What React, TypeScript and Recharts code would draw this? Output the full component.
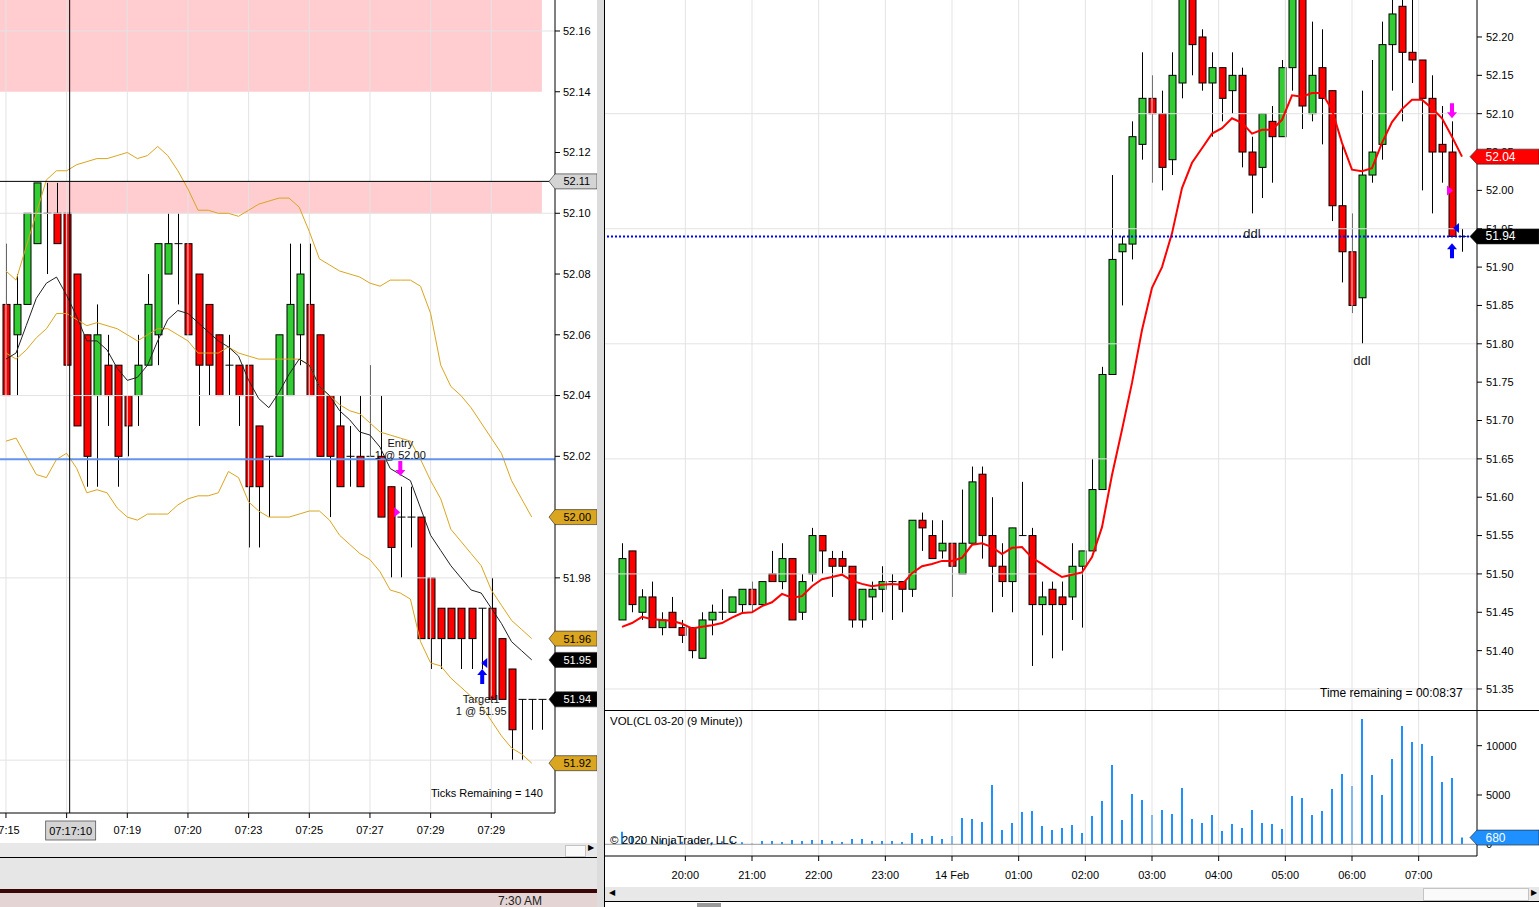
import React from 'react';
import {
  ComposedChart,
  Bar,
  Line,
  XAxis,
  YAxis,
  ReferenceLine,
  ReferenceArea,
  ReferenceDot,
} from 'recharts';

const FONT = '"Liberation Sans", Arial, sans-serif';
const GREEN = '#32CD32';
const RED = '#FF0000';
const GOLD = '#DAA520';
const GRID = '#e3e3e3';
const VOL_BLUE = '#1E90FF';

// ---- left panel: tick chart (one bar per n ticks) ----
const leftOpen = [52.07, 52.06, 52.07, 52.09, 52.10, 52.10, 52.10, 52.08, 52.06, 52.04, 52.05, 52.05, 52.04, 52.04, 52.05, 52.06, 52.08, 52.09, 52.09, 52.08, 52.07, 52.06, 52.05, 52.05, 52.05, 52.03, 52.02, 52.02, 52.04, 52.06, 52.07, 52.06, 52.04, 52.03, 52.02, 52.02, 52.02, 52.02, 52.01, 52.00, 52.00, 52.00, 51.98, 51.97, 51.97, 51.97, 51.97, 51.97, 51.97, 51.96, 51.95, 51.94, 51.94, 51.94];
const leftHigh = [52.09, 52.08, 52.10, 52.11, 52.11, 52.11, 52.10, 52.08, 52.06, 52.07, 52.06, 52.05, 52.04, 52.06, 52.08, 52.09, 52.10, 52.10, 52.09, 52.08, 52.07, 52.06, 52.06, 52.05, 52.05, 52.03, 52.02, 52.06, 52.09, 52.09, 52.09, 52.06, 52.04, 52.04, 52.03, 52.04, 52.05, 52.04, 52.01, 52.01, 52.01, 52.00, 51.98, 51.97, 51.97, 51.97, 51.97, 51.97, 51.98, 51.96, 51.95, 51.94, 51.94, 51.94];
const leftLow = [52.04, 52.04, 52.07, 52.09, 52.08, 52.09, 52.05, 52.03, 52.01, 52.01, 52.03, 52.01, 52.02, 52.03, 52.05, 52.05, 52.08, 52.07, 52.06, 52.03, 52.04, 52.04, 52.04, 52.03, 51.99, 51.99, 52.00, 52.02, 52.04, 52.05, 52.04, 52.02, 52.00, 52.01, 52.01, 52.01, 52.02, 52.00, 51.98, 51.98, 51.99, 51.96, 51.95, 51.95, 51.96, 51.95, 51.95, 51.95, 51.94, 51.94, 51.92, 51.92, 51.93, 51.93];
const leftClose = [52.04, 52.07, 52.10, 52.11, 52.10, 52.09, 52.05, 52.03, 52.02, 52.06, 52.04, 52.02, 52.03, 52.05, 52.07, 52.09, 52.09, 52.09, 52.06, 52.05, 52.05, 52.04, 52.05, 52.04, 52.01, 52.01, 52.02, 52.06, 52.07, 52.08, 52.04, 52.02, 52.02, 52.01, 52.02, 52.01, 52.02, 52.00, 51.99, 52.00, 52.00, 51.96, 51.96, 51.96, 51.96, 51.96, 51.96, 51.97, 51.94, 51.94, 51.93, 51.94, 51.94, 51.94];

// envelope bands + short average (last bar still forming, no value)
const leftUpper = [52.081, 52.078, 52.089, 52.100, 52.111, 52.114, 52.114, 52.116, 52.117, 52.118, 52.118, 52.119, 52.120, 52.118, 52.119, 52.122, 52.119, 52.114, 52.108, 52.101, 52.101, 52.100, 52.100, 52.099, 52.101, 52.103, 52.104, 52.105, 52.105, 52.102, 52.094, 52.085, 52.083, 52.081, 52.080, 52.079, 52.077, 52.076, 52.078, 52.078, 52.078, 52.076, 52.067, 52.050, 52.043, 52.040, 52.036, 52.031, 52.026, 52.021, 52.012, 52.006, 52.000];
const leftMiddle = [52.054, 52.052, 52.055, 52.059, 52.062, 52.067, 52.067, 52.065, 52.063, 52.064, 52.063, 52.062, 52.060, 52.058, 52.060, 52.062, 52.062, 52.060, 52.058, 52.054, 52.054, 52.054, 52.056, 52.054, 52.053, 52.052, 52.052, 52.052, 52.052, 52.052, 52.050, 52.043, 52.040, 52.037, 52.035, 52.034, 52.031, 52.028, 52.027, 52.026, 52.025, 52.019, 52.012, 52.006, 51.996, 51.992, 51.988, 51.984, 51.976, 51.971, 51.966, 51.963, 51.960];
const leftLower = [52.025, 52.026, 52.020, 52.014, 52.013, 52.019, 52.021, 52.016, 52.008, 52.009, 52.008, 52.003, 52.000, 51.999, 52.001, 52.001, 52.001, 52.004, 52.006, 52.007, 52.007, 52.008, 52.015, 52.013, 52.005, 52.002, 52.000, 52.000, 52.000, 52.001, 52.002, 52.002, 51.999, 51.994, 51.991, 51.988, 51.986, 51.982, 51.976, 51.975, 51.973, 51.959, 51.952, 51.951, 51.947, 51.944, 51.941, 51.938, 51.933, 51.928, 51.924, 51.922, 51.919];
const leftAvg = [52.052, 52.054, 52.063, 52.072, 52.077, 52.079, 52.073, 52.066, 52.058, 52.058, 52.055, 52.049, 52.045, 52.046, 52.050, 52.058, 52.065, 52.068, 52.067, 52.064, 52.061, 52.058, 52.056, 52.053, 52.045, 52.039, 52.036, 52.041, 52.047, 52.052, 52.050, 52.043, 52.040, 52.035, 52.032, 52.028, 52.027, 52.023, 52.016, 52.014, 52.012, 52.003, 51.994, 51.989, 51.984, 51.980, 51.976, 51.975, 51.970, 51.965, 51.959, 51.956, 51.953];

const leftTickIdx = [0, 6, 12, 18, 24, 30, 36, 42, 48];
const leftTickText = ['07:15', '07:17', '07:19', '07:20', '07:23', '07:25', '07:27', '07:29', '07:29'];
const leftPriceTicks = [51.92, 51.94, 51.96, 51.98, 52.0, 52.02, 52.04, 52.06, 52.08, 52.1, 52.12, 52.14, 52.16];
const leftGridPrices = [51.92, 51.98, 52.04, 52.1, 52.16];

const leftEntry = 52.019;
const leftCrossPrice = 52.1105;
const leftCrossIdx = 6.3;

// ---- right panel: CL 03-20, 9 minute bars ----
const BAR0 = 19 * 60 + 3; // first bar, minutes from 13 Feb 00:00
const BAR_MIN = 9;

const rightOpen = [51.44, 51.53, 51.45, 51.47, 51.43, 51.45, 51.43, 51.43, 51.39, 51.44, 51.45, 51.45, 51.46, 51.48, 51.46, 51.50, 51.49, 51.52, 51.45, 51.50, 51.55, 51.52, 51.52, 51.51, 51.44, 51.47, 51.48, 51.49, 51.49, 51.48, 51.57, 51.55, 51.53, 51.54, 51.50, 51.54, 51.63, 51.55, 51.51, 51.49, 51.55, 51.55, 51.46, 51.48, 51.47, 51.47, 51.51, 51.53, 51.61, 51.76, 51.92, 51.93, 52.06, 52.12, 52.10, 52.04, 52.14, 52.27, 52.20, 52.14, 52.16, 52.13, 52.15, 52.05, 52.03, 52.09, 52.07, 52.16, 52.27, 52.10, 52.16, 52.13, 51.98, 51.92, 51.86, 52.02, 52.06, 52.19, 52.24, 52.18, 52.17, 52.12, 52.06, 52.05, 51.94];
const rightHigh = [51.54, 51.53, 51.48, 51.49, 51.45, 51.47, 51.44, 51.43, 51.45, 51.46, 51.48, 51.47, 51.48, 51.49, 51.49, 51.53, 51.54, 51.52, 51.50, 51.56, 51.55, 51.53, 51.53, 51.51, 51.48, 51.49, 51.51, 51.50, 51.49, 51.57, 51.58, 51.57, 51.57, 51.54, 51.61, 51.64, 51.64, 51.60, 51.54, 51.56, 51.62, 51.56, 51.49, 51.49, 51.49, 51.54, 51.53, 51.65, 51.77, 52.02, 51.94, 52.09, 52.18, 52.15, 52.13, 52.18, 52.29, 52.29, 52.21, 52.18, 52.16, 52.18, 52.16, 52.07, 52.10, 52.11, 52.17, 52.29, 52.29, 52.22, 52.21, 52.13, 52.06, 51.97, 52.13, 52.17, 52.22, 52.27, 52.27, 52.27, 52.17, 52.15, 52.11, 52.09, 51.95];
const rightLow = [51.44, 51.45, 51.44, 51.43, 51.42, 51.43, 51.41, 51.39, 51.39, 51.42, 51.44, 51.45, 51.45, 51.45, 51.46, 51.49, 51.48, 51.44, 51.44, 51.49, 51.50, 51.47, 51.50, 51.43, 51.43, 51.44, 51.45, 51.44, 51.45, 51.47, 51.53, 51.52, 51.52, 51.47, 51.50, 51.54, 51.52, 51.45, 51.47, 51.45, 51.55, 51.38, 51.42, 51.39, 51.40, 51.44, 51.43, 51.53, 51.61, 51.76, 51.85, 51.91, 52.04, 52.01, 52.00, 52.02, 52.12, 52.15, 52.13, 52.07, 52.09, 52.10, 52.03, 51.97, 51.99, 52.01, 52.07, 52.13, 52.08, 52.09, 52.06, 51.96, 51.88, 51.84, 51.80, 52.01, 52.04, 52.13, 52.09, 52.14, 52.00, 51.97, 52.01, 51.94, 51.92];
const rightClose = [51.52, 51.46, 51.47, 51.43, 51.44, 51.43, 51.42, 51.40, 51.44, 51.45, 51.45, 51.47, 51.48, 51.46, 51.49, 51.49, 51.52, 51.44, 51.49, 51.55, 51.53, 51.51, 51.51, 51.44, 51.48, 51.48, 51.49, 51.49, 51.48, 51.57, 51.56, 51.52, 51.54, 51.51, 51.54, 51.62, 51.55, 51.51, 51.49, 51.56, 51.55, 51.46, 51.47, 51.46, 51.46, 51.51, 51.53, 51.61, 51.76, 51.91, 51.93, 52.07, 52.12, 52.10, 52.03, 52.15, 52.27, 52.19, 52.14, 52.16, 52.12, 52.15, 52.05, 52.02, 52.10, 52.07, 52.16, 52.27, 52.11, 52.15, 52.12, 51.98, 51.92, 51.85, 52.02, 52.05, 52.19, 52.23, 52.18, 52.17, 52.12, 52.05, 52.05, 51.94, 51.94];
const rightEma = [51.431, 51.436, 51.444, 51.441, 51.440, 51.439, 51.435, 51.429, 51.431, 51.433, 51.436, 51.443, 51.449, 51.450, 51.458, 51.463, 51.474, 51.469, 51.471, 51.484, 51.493, 51.496, 51.499, 51.491, 51.487, 51.484, 51.486, 51.487, 51.486, 51.501, 51.510, 51.513, 51.517, 51.517, 51.521, 51.538, 51.540, 51.535, 51.526, 51.534, 51.535, 51.521, 51.513, 51.504, 51.496, 51.499, 51.502, 51.522, 51.561, 51.629, 51.688, 51.749, 51.818, 51.873, 51.900, 51.944, 52.003, 52.036, 52.055, 52.074, 52.081, 52.094, 52.088, 52.074, 52.079, 52.079, 52.092, 52.124, 52.122, 52.127, 52.127, 52.105, 52.062, 52.027, 52.025, 52.029, 52.062, 52.089, 52.106, 52.118, 52.118, 52.107, 52.094, 52.070, 52.044];
const rightVolume = [1280, 770, 400, 400, 400, 400, 270, 350, 300, 200, 300, 300, 200, 70, 340, 340, 240, 440, 340, 440, 440, 340, 240, 540, 540, 340, 340, 340, 240, 1150, 540, 845, 540, 845, 2670, 2570, 2260, 6010, 1450, 2160, 3280, 3380, 1860, 1450, 1660, 1960, 1150, 2870, 4390, 8040, 2470, 5100, 4490, 2970, 3480, 3070, 5710, 2570, 2160, 2970, 1350, 2060, 1660, 3480, 2160, 2060, 1550, 4900, 4700, 2970, 3380, 5610, 7130, 5910, 12700, 7030, 5000, 8650, 11990, 10370, 10170, 8950, 6320, 6720, 680];

const hourTicks = [1200, 1260, 1320, 1380, 1440, 1500, 1560, 1620, 1680, 1740, 1800, 1860];
const hourText = ['20:00', '21:00', '22:00', '23:00', '14 Feb', '01:00', '02:00', '03:00', '04:00', '05:00', '06:00', '07:00'];
const rightPriceTicks = [51.35, 51.4, 51.45, 51.5, 51.55, 51.6, 51.65, 51.7, 51.75, 51.8, 51.85, 51.9, 51.95, 52.0, 52.05, 52.1, 52.15, 52.2];
const rightGridPrices = [51.35, 51.5, 51.65, 51.8, 51.95, 52.1];
const volumeTicks = [0, 5000, 10000];
const rightLast = 51.94;

const leftRows = leftOpen.map((o, i) => ({
  i,
  o,
  h: leftHigh[i],
  l: leftLow[i],
  c: leftClose[i],
  up: leftUpper[i] ?? null,
  mid: leftMiddle[i] ?? null,
  lo: leftLower[i] ?? null,
  avg: leftAvg[i] ?? null,
}));

const rightRows = rightOpen.map((o, i) => ({
  t: BAR0 + i * BAR_MIN,
  o,
  h: rightHigh[i],
  l: rightLow[i],
  c: rightClose[i],
  ema: rightEma[i],
  v: rightVolume[i],
}));
const barTime = (i: number) => BAR0 + i * BAR_MIN;

/* candle drawn inside the [low, high] range bar that recharts lays out */
const Candle = (props: any) => {
  const { x, y, width, height, payload } = props;
  if (payload == null || x == null || y == null) return null;
  const { o, h, l, c } = payload;
  const cx = Math.round(x + width / 2) + 0.5;
  const k = h - l > 0 ? height / (h - l) : 0;
  const py = (v: number) => y + (h - v) * k;
  const top = py(Math.max(o, c));
  const bot = py(Math.min(o, c));
  return (
    <g>
      <line x1={cx} x2={cx} y1={y} y2={y + height} stroke="#000" strokeWidth={1} />
      {o === c ? (
        <line x1={cx - 4} x2={cx + 4} y1={top} y2={top} stroke="#000" strokeWidth={1} />
      ) : (
        <rect
          x={cx - 3.5}
          y={top}
          width={7}
          height={bot - top}
          fill={c > o ? GREEN : RED}
          stroke="#000"
          strokeWidth={1}
        />
      )}
    </g>
  );
};

/* NinjaTrader style price marker sitting on the price axis */
const Tag = (props: any) => {
  const { viewBox, text, bg, fg, tip = 6, w = 42, size = 11 } = props;
  if (!viewBox) return null;
  const ax = viewBox.x + viewBox.width;
  const cy = viewBox.y;
  const hh = 7.5;
  const pts = `${ax - tip},${cy} ${ax},${cy - hh} ${ax + w},${cy - hh} ${ax + w},${cy + hh} ${ax},${cy + hh}`;
  return (
    <g>
      <polygon points={pts} fill={bg} stroke="#222" strokeWidth={0.6} />
      <text x={ax + 8.5} y={cy + 4} fontSize={size} fontFamily={FONT} fill={fg}>
        {text}
      </text>
    </g>
  );
};

const TimeTag = (props: any) => {
  const { viewBox, text } = props;
  if (!viewBox) return null;
  const x = viewBox.x;
  const y = viewBox.y + viewBox.height;
  return (
    <g>
      <rect x={x - 24} y={y + 8} width={50} height={19} fill="#d4d4d4" stroke="#555" strokeWidth={0.8} />
      <text x={x + 1} y={y + 21.5} fontSize={11} textAnchor="middle" fontFamily={FONT} fill="#000">
        {text}
      </text>
    </g>
  );
};

const arrowDown = (color: string) => (p: any) => (
  <path
    d={`M${p.cx - 2},${p.cy - 15} L${p.cx + 2},${p.cy - 15} L${p.cx + 2},${p.cy - 6} L${p.cx + 5},${p.cy - 6} L${p.cx},${p.cy} L${p.cx - 5},${p.cy - 6} L${p.cx - 2},${p.cy - 6} Z`}
    fill={color}
  />
);
const arrowUp = (color: string) => (p: any) => (
  <path
    d={`M${p.cx - 2},${p.cy + 15} L${p.cx + 2},${p.cy + 15} L${p.cx + 2},${p.cy + 6} L${p.cx + 5},${p.cy + 6} L${p.cx},${p.cy} L${p.cx - 5},${p.cy + 6} L${p.cx - 2},${p.cy + 6} Z`}
    fill={color}
  />
);
const triRight = (color: string) => (p: any) => (
  <path d={`M${p.cx - 3},${p.cy - 5} L${p.cx + 3},${p.cy} L${p.cx - 3},${p.cy + 5} Z`} fill={color} />
);
const triLeft = (color: string) => (p: any) => (
  <path d={`M${p.cx + 3},${p.cy - 5} L${p.cx - 3},${p.cy} L${p.cx + 3},${p.cy + 5} Z`} fill={color} />
);
const twoLines = (a: string, b: string, d1: number, d2: number) => (p: any) => (
  <g fontSize={11} fontFamily={FONT} fill="#111" textAnchor="middle">
    <text x={p.cx} y={p.cy + d1}>{a}</text>
    <text x={p.cx} y={p.cy + d2}>{b}</text>
  </g>
);
const oneLine = (a: string) => (p: any) => (
  <text x={p.cx} y={p.cy + 4} fontSize={13} fontFamily={FONT} fill="#222" textAnchor="middle">
    {a}
  </text>
);

const axisTick = { fontSize: 11, fill: '#000', fontFamily: FONT };
const last = (arr: number[]) => arr[arr.length - 1];

const LEFT_X: [number, number] = [-0.59, 54.3];
const LEFT_Y: [number, number] = [51.9026, 52.1702];
const RIGHT_X: [number, number] = [1127.7, 1912.5];
const PRICE_Y: [number, number] = [51.3226, 52.2482];
const VOL_Y: [number, number] = [-1187, 13519];

/* invisible axes with the same geometry, so the axis markers land on top of the tick labels */
const ghostAxes = (xDomain: [number, number], yDomain: [number, number], xh: number, yw: number, xKey: string) => [
  <XAxis key="gx" dataKey={xKey} type="number" domain={xDomain} allowDataOverflow height={xh} tick={false} tickLine={false} axisLine={false} />,
  <YAxis key="gy" orientation="right" type="number" domain={yDomain} allowDataOverflow width={yw} tick={false} tickLine={false} axisLine={false} />,
];

function LeftChart() {
  return (
    <ComposedChart width={597} height={843} data={leftRows} margin={{ top: 0, right: 0, bottom: 0, left: 0 }}>
      <XAxis
        dataKey="i"
        type="number"
        domain={LEFT_X}
        allowDataOverflow
        ticks={leftTickIdx}
        interval={0}
        tickFormatter={(v: number) => (v === 6 ? '' : leftTickText[leftTickIdx.indexOf(v)] ?? '')}
        tick={axisTick}
        tickLine={{ stroke: '#000' }}
        axisLine={{ stroke: '#000' }}
        tickSize={5}
        tickMargin={8}
        height={30}
      />
      <YAxis
        orientation="right"
        type="number"
        domain={LEFT_Y}
        allowDataOverflow
        ticks={leftPriceTicks}
        interval={0}
        tickFormatter={(v: number) => v.toFixed(2)}
        tick={axisTick}
        tickLine={{ stroke: '#000' }}
        axisLine={{ stroke: '#000' }}
        tickSize={5}
        tickMargin={3}
        width={42}
      />
      <ReferenceArea x1={LEFT_X[0]} x2={53} y1={52.14} y2={LEFT_Y[1]} fill="#ffccd0" fillOpacity={1} stroke="none" ifOverflow="hidden" />
      <ReferenceArea x1={4} x2={53} y1={52.1} y2={52.1105} fill="#ffccd0" fillOpacity={1} stroke="none" />
      {leftGridPrices.map((p) => (
        <ReferenceLine key={'lg' + p} y={p} stroke={GRID} />
      ))}
      {leftTickIdx.map((t) => (
        <ReferenceLine key={'lv' + t} x={t} stroke={GRID} />
      ))}
      <Bar dataKey={(d: any) => [d.l, d.h]} barSize={7} shape={(p: any) => <Candle {...p} />} isAnimationActive={false} />
      <Line dataKey="up" type="linear" stroke={GOLD} strokeWidth={1} dot={false} activeDot={false} isAnimationActive={false} />
      <Line dataKey="mid" type="linear" stroke={GOLD} strokeWidth={1} dot={false} activeDot={false} isAnimationActive={false} />
      <Line dataKey="lo" type="linear" stroke={GOLD} strokeWidth={1} dot={false} activeDot={false} isAnimationActive={false} />
      <Line dataKey="avg" type="linear" stroke="#222" strokeWidth={1} dot={false} activeDot={false} isAnimationActive={false} />
      <ReferenceLine y={leftEntry} stroke="#6495ED" strokeWidth={2} />
      <ReferenceLine y={leftCrossPrice} stroke="#000" strokeWidth={1} />
      <ReferenceLine x={leftCrossIdx} stroke="#000" strokeWidth={1} />
      <ReferenceDot x={39} y={leftEntry} r={0} shape={twoLines('Entry', '1 @ 52.00', -12, 0)} />
      <ReferenceDot x={39} y={52.0135} r={0} shape={arrowDown('#FF00FF')} />
      <ReferenceDot x={38.7} y={52.0016} r={0} shape={triRight('#FF00FF')} />
      <ReferenceDot x={47.1} y={51.95} r={0} shape={arrowUp('#0000FF')} />
      <ReferenceDot x={47.3} y={51.952} r={0} shape={triLeft('#0000FF')} />
      <ReferenceDot x={47} y={51.94} r={0} shape={twoLines('Target1', '1 @ 51.95', 4, 16)} />
    </ComposedChart>
  );
}

function LeftTags() {
  return (
    <ComposedChart width={597} height={843} data={leftRows} margin={{ top: 0, right: 0, bottom: 0, left: 0 }}>
      {ghostAxes(LEFT_X, LEFT_Y, 30, 42, 'i')}
      <ReferenceLine y={leftCrossPrice} stroke="none" label={<Tag text={leftCrossPrice.toFixed(2)} bg="#d4d4d4" fg="#000" />} />
      <ReferenceLine x={leftCrossIdx} stroke="none" label={<TimeTag text="07:17:10" />} />
      <ReferenceLine y={last(leftUpper)} stroke="none" label={<Tag text={last(leftUpper).toFixed(2)} bg={GOLD} fg="#000" />} />
      <ReferenceLine y={last(leftMiddle)} stroke="none" label={<Tag text={last(leftMiddle).toFixed(2)} bg={GOLD} fg="#000" />} />
      <ReferenceLine y={last(leftLower)} stroke="none" label={<Tag text={last(leftLower).toFixed(2)} bg={GOLD} fg="#000" />} />
      <ReferenceLine y={last(leftAvg)} stroke="none" label={<Tag text={last(leftAvg).toFixed(2)} bg="#000" fg="#fff" />} />
      <ReferenceLine y={last(leftClose)} stroke="none" label={<Tag text={last(leftClose).toFixed(2)} bg="#000" fg="#fff" />} />
    </ComposedChart>
  );
}

function PriceChart() {
  return (
    <ComposedChart width={934} height={710} data={rightRows} margin={{ top: 0, right: 0, bottom: 0, left: 0 }}>
      <XAxis dataKey="t" type="number" domain={RIGHT_X} allowDataOverflow hide />
      <YAxis
        orientation="right"
        type="number"
        domain={PRICE_Y}
        allowDataOverflow
        ticks={rightPriceTicks}
        interval={0}
        tickFormatter={(v: number) => v.toFixed(2)}
        tick={axisTick}
        tickLine={{ stroke: '#000' }}
        axisLine={{ stroke: '#000' }}
        tickSize={5}
        tickMargin={4}
        width={62}
      />
      {rightGridPrices.map((p) => (
        <ReferenceLine key={'rg' + p} y={p} stroke={GRID} />
      ))}
      {hourTicks.map((t) => (
        <ReferenceLine key={'rv' + t} x={t} stroke={GRID} />
      ))}
      <Bar dataKey={(d: any) => [d.l, d.h]} barSize={7} shape={(p: any) => <Candle {...p} />} isAnimationActive={false} />
      <Line dataKey="ema" type="linear" stroke={RED} strokeWidth={2} dot={false} activeDot={false} isAnimationActive={false} />
      <ReferenceLine y={rightLast} stroke="#0000FF" strokeWidth={2} strokeDasharray="2 2" />
      <ReferenceDot x={barTime(63)} y={51.943} r={0} shape={oneLine('ddl')} />
      <ReferenceDot x={barTime(74)} y={51.777} r={0} shape={oneLine('ddl')} />
      <ReferenceDot x={barTime(83)} y={52.094} r={0} shape={arrowDown('#FF00FF')} />
      <ReferenceDot x={barTime(82.8)} y={52.0} r={0} shape={triRight('#FF00FF')} />
      <ReferenceDot x={barTime(83.4)} y={51.951} r={0} shape={triLeft('#0000FF')} />
      <ReferenceDot x={barTime(83)} y={51.931} r={0} shape={arrowUp('#0000FF')} />
    </ComposedChart>
  );
}

function PriceTags() {
  return (
    <ComposedChart width={934} height={710} data={rightRows} margin={{ top: 0, right: 0, bottom: 0, left: 0 }}>
      {ghostAxes(RIGHT_X, PRICE_Y, 0, 62, 't')}
      <ReferenceLine y={rightLast} stroke="none" label={<Tag text={rightLast.toFixed(2)} bg="#000" fg="#fff" tip={7} w={62} size={12} />} />
      <ReferenceLine y={last(rightEma)} stroke="none" label={<Tag text={last(rightEma).toFixed(2)} bg={RED} fg="#fff" tip={7} w={62} size={12} />} />
    </ComposedChart>
  );
}

function VolumeChart() {
  return (
    <ComposedChart width={934} height={176} data={rightRows} margin={{ top: 1, right: 0, bottom: 0, left: 0 }}>
      <XAxis
        dataKey="t"
        type="number"
        domain={RIGHT_X}
        allowDataOverflow
        ticks={hourTicks}
        interval={0}
        tickFormatter={(v: number) => hourText[hourTicks.indexOf(v)] ?? ''}
        tick={axisTick}
        tickLine={{ stroke: '#000' }}
        axisLine={{ stroke: '#000' }}
        tickSize={5}
        tickMargin={10}
        height={30}
      />
      <YAxis
        orientation="right"
        type="number"
        domain={VOL_Y}
        allowDataOverflow
        ticks={volumeTicks}
        interval={0}
        tick={axisTick}
        tickLine={{ stroke: '#000' }}
        axisLine={{ stroke: '#000' }}
        tickSize={5}
        tickMargin={4}
        width={62}
      />
      {hourTicks.map((t) => (
        <ReferenceLine key={'vv' + t} x={t} stroke={GRID} />
      ))}
      <ReferenceLine y={0} stroke="#9a9a9a" strokeWidth={1} />
      <Bar dataKey="v" barSize={2} fill={VOL_BLUE} isAnimationActive={false} />
    </ComposedChart>
  );
}

function VolumeTags() {
  return (
    <ComposedChart width={934} height={176} data={rightRows} margin={{ top: 1, right: 0, bottom: 0, left: 0 }}>
      {ghostAxes(RIGHT_X, VOL_Y, 30, 62, 't')}
      <ReferenceLine
        y={last(rightVolume)}
        stroke="none"
        label={<Tag text={String(last(rightVolume))} bg={VOL_BLUE} fg="#fff" tip={7} w={62} size={12} />}
      />
    </ComposedChart>
  );
}

const abs = (s: React.CSSProperties): React.CSSProperties => ({ position: 'absolute', ...s });
const txt: React.CSSProperties = { fontFamily: FONT, fontSize: 11, color: '#000', whiteSpace: 'nowrap' };
const over: React.CSSProperties = { pointerEvents: 'none' };

export default function App() {
  return (
    <div style={abs({ left: 0, top: 0, width: 1539, height: 907, overflow: 'hidden', background: '#fff' })}>
      {/* left tick chart */}
      <div style={abs({ left: 0, top: 0 })}>
        <LeftChart />
      </div>
      <div style={{ ...over, ...abs({ left: 0, top: 0 }) }}>
        <LeftTags />
      </div>
      <div style={{ ...txt, ...abs({ left: 431, top: 787 }) }}>Ticks Remaining = 140</div>

      {/* left footer: scroll bar, tab strip, taskbar */}
      <div style={abs({ left: 0, top: 843, width: 597, height: 14, background: '#e8e8e8' })} />
      <div style={abs({ left: 565, top: 845, width: 19, height: 10, background: '#fafafa', border: '1px solid #c4c4c4' })} />
      <div style={{ ...txt, ...abs({ left: 588, top: 843, fontSize: 8 }) }}>▶</div>
      <div style={abs({ left: 0, top: 857, width: 597, height: 1, background: '#000' })} />
      <div style={abs({ left: 0, top: 858, width: 597, height: 31, background: '#e6e6e6' })} />
      <div style={abs({ left: 0, top: 889, width: 597, height: 4, background: '#3a0606' })} />
      <div style={abs({ left: 0, top: 893, width: 597, height: 14, background: '#e4d4d4' })} />
      <div style={{ ...txt, ...abs({ left: 498, top: 894, fontSize: 12, color: '#222' }) }}>7:30 AM</div>

      {/* splitter */}
      <div style={abs({ left: 597, top: 0, width: 7, height: 907, background: '#dcdcdc' })} />
      <div style={abs({ left: 604, top: 0, width: 1, height: 907, background: '#000' })} />

      {/* right 9 minute chart */}
      <div style={abs({ left: 605, top: 0 })}>
        <PriceChart />
      </div>
      <div style={{ ...over, ...abs({ left: 605, top: 0 }) }}>
        <PriceTags />
      </div>
      <div style={abs({ left: 605, top: 710, width: 934, height: 1, background: '#000' })} />
      <div style={abs({ left: 605, top: 710 })}>
        <VolumeChart />
      </div>
      <div style={{ ...over, ...abs({ left: 605, top: 710 }) }}>
        <VolumeTags />
      </div>
      <div style={{ ...txt, ...abs({ left: 1320, top: 686, fontSize: 12 }) }}>Time remaining = 00:08:37</div>
      <div style={{ ...txt, ...abs({ left: 610, top: 715, fontSize: 11.5 }) }}>VOL(CL 03-20 (9 Minute))</div>
      <div style={{ ...txt, ...abs({ left: 610, top: 834, fontSize: 11.5 }) }}>© 2020 NinjaTrader, LLC</div>

      {/* right footer */}
      <div style={abs({ left: 605, top: 887, width: 934, height: 14, background: '#e8e8e8' })} />
      <div style={{ ...txt, ...abs({ left: 609, top: 888, fontSize: 8 }) }}>◀</div>
      <div style={abs({ left: 1423, top: 888, width: 104, height: 11, background: '#fafafa', border: '1px solid #c4c4c4' })} />
      <div style={{ ...txt, ...abs({ left: 1531, top: 888, fontSize: 8 }) }}>▶</div>
      <div style={abs({ left: 605, top: 901, width: 934, height: 1, background: '#000' })} />
      <div style={abs({ left: 697, top: 903, width: 24, height: 4, background: '#9a9a9a' })} />
    </div>
  );
}
